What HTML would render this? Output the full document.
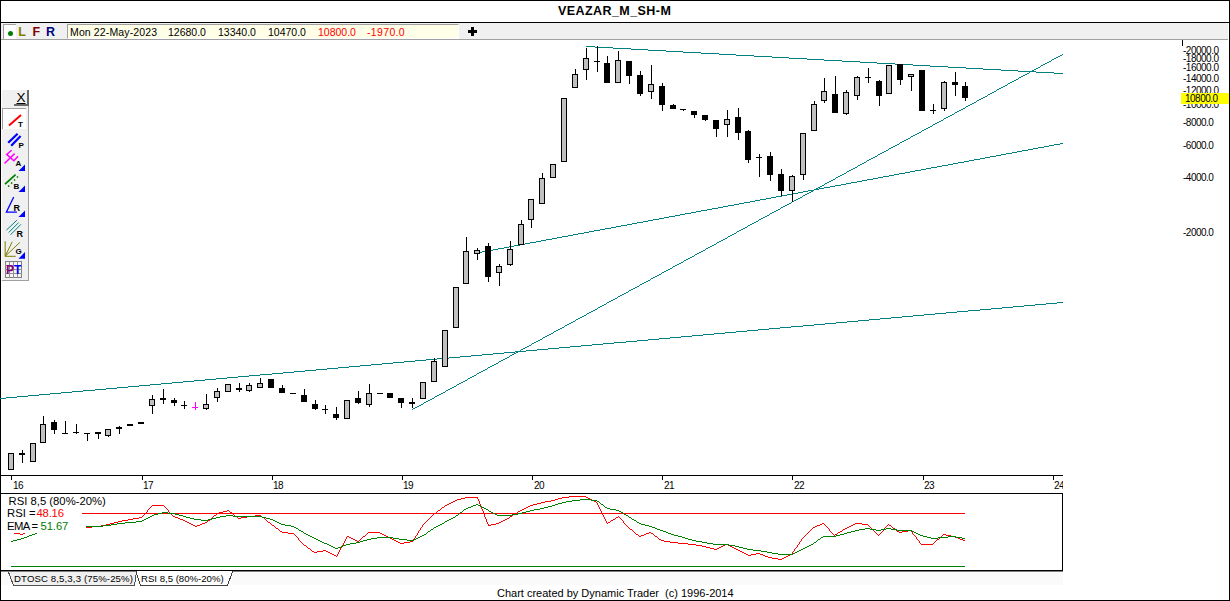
<!DOCTYPE html>
<html><head><meta charset="utf-8"><title>VEAZAR_M_SH-M</title>
<style>
html,body{margin:0;padding:0;background:#fff;}
body{width:1230px;height:601px;position:relative;overflow:hidden;font-family:"Liberation Sans",sans-serif;color:#000;}
.abs{position:absolute;}
.t{position:absolute;white-space:nowrap;line-height:1;}
#frame{position:absolute;left:0;top:0;width:1228px;height:599px;border:1px solid #000;}
#title{left:558px;top:5px;font-size:12.5px;font-weight:bold;letter-spacing:0.43px;}
#tb{position:absolute;left:1px;top:23px;width:1227px;height:16px;background:#f0f0f0;}
#tbl{position:absolute;left:1px;top:39px;width:1227px;height:1px;background:#a0a0a0;}
#hl{position:absolute;left:1px;top:22px;width:1228px;height:1px;background:#000;}
#dot{position:absolute;left:3px;top:24px;width:12px;height:14px;background:#fff;border-top:1px solid #a0a0a0;border-left:1px solid #a0a0a0;}
#info{position:absolute;left:67px;top:24px;width:390px;height:13px;background:#ffffe8;border-top:1px solid #a0a0a0;border-left:1px solid #a0a0a0;border-bottom:1px solid #fff;border-right:1px solid #fff;}
.tbt{font-size:10.5px;top:27px;}
.ax{font-size:10px;left:1183px;letter-spacing:-0.5px;}
.xl{font-size:10px;top:481px;letter-spacing:-0.5px;}
.rs{font-size:11.3px;}
.tab{font-size:9.6px;}
.pl{font-size:8px;font-weight:bold;}
</style></head><body>
<div id="frame"></div>
<div class="t" id="title">VEAZAR_M_SH-M</div>
<div id="hl"></div><div id="tb"></div><div id="tbl"></div>
<div class="abs" style="left:1px;top:572px;width:1062px;height:13px;background:#fafafa;"></div>
<div id="dot"></div><div id="info"></div>
<div class="abs" style="left:8px;top:31px;width:5px;height:5px;border-radius:2.5px;background:#008000;"></div>
<div class="t" style="left:18.2px;top:25.5px;font-size:12.5px;font-weight:bold;color:#808000;">L</div>
<div class="t" style="left:32.5px;top:25.5px;font-size:12.5px;font-weight:bold;color:#800000;">F</div>
<div class="t" style="left:46px;top:25.5px;font-size:12.5px;font-weight:bold;color:#000080;">R</div>
<div class="t tbt" style="left:70px;letter-spacing:0.13px;">Mon 22-May-2023</div>
<div class="t tbt" style="left:168px;">12680.0</div>
<div class="t tbt" style="left:218px;">13340.0</div>
<div class="t tbt" style="left:268px;">10470.0</div>
<div class="t tbt" style="left:318px;color:#ff0000;">10800.0</div>
<div class="t tbt" style="left:367px;color:#ff0000;letter-spacing:0.35px;">-1970.0</div>
<div class="abs" style="left:468px;top:30px;width:9px;height:3px;background:#000;"></div>
<div class="abs" style="left:471px;top:27px;width:3px;height:9px;background:#000;"></div>
<svg class="abs" style="left:0;top:0" width="1230" height="601" viewBox="0 0 1230 601" shape-rendering="crispEdges">
<path d="M1057 302h6v1h-6zM1046 303h11v1h-11zM1035 304h11v1h-11zM1024 305h11v1h-11zM1013 306h11v1h-11zM1002 307h11v1h-11zM991 308h11v1h-11zM980 309h11v1h-11zM968 310h12v1h-12zM957 311h11v1h-11zM946 312h11v1h-11zM935 313h11v1h-11zM924 314h11v1h-11zM913 315h11v1h-11zM902 316h11v1h-11zM891 317h11v1h-11zM880 318h11v1h-11zM869 319h11v1h-11zM858 320h11v1h-11zM847 321h11v1h-11zM836 322h11v1h-11zM825 323h11v1h-11zM814 324h11v1h-11zM803 325h11v1h-11zM791 326h12v1h-12zM780 327h11v1h-11zM769 328h11v1h-11zM758 329h11v1h-11zM747 330h11v1h-11zM736 331h11v1h-11zM725 332h11v1h-11zM714 333h11v1h-11zM703 334h11v1h-11zM692 335h11v1h-11zM681 336h11v1h-11zM670 337h11v1h-11zM659 338h11v1h-11zM648 339h11v1h-11zM637 340h11v1h-11zM626 341h11v1h-11zM614 342h12v1h-12zM603 343h11v1h-11zM592 344h11v1h-11zM581 345h11v1h-11zM570 346h11v1h-11zM559 347h11v1h-11zM548 348h11v1h-11zM537 349h11v1h-11zM526 350h11v1h-11zM515 351h11v1h-11zM504 352h11v1h-11zM493 353h11v1h-11zM482 354h11v1h-11zM471 355h11v1h-11zM460 356h11v1h-11zM449 357h11v1h-11zM437 358h12v1h-12zM426 359h11v1h-11zM415 360h11v1h-11zM404 361h11v1h-11zM393 362h11v1h-11zM382 363h11v1h-11zM371 364h11v1h-11zM360 365h11v1h-11zM349 366h11v1h-11zM338 367h11v1h-11zM327 368h11v1h-11zM316 369h11v1h-11zM305 370h11v1h-11zM294 371h11v1h-11zM283 372h11v1h-11zM272 373h11v1h-11zM260 374h12v1h-12zM249 375h11v1h-11zM238 376h11v1h-11zM227 377h11v1h-11zM216 378h11v1h-11zM205 379h11v1h-11zM194 380h11v1h-11zM183 381h11v1h-11zM172 382h11v1h-11zM161 383h11v1h-11zM150 384h11v1h-11zM139 385h11v1h-11zM128 386h11v1h-11zM117 387h11v1h-11zM106 388h11v1h-11zM95 389h11v1h-11zM83 390h12v1h-12zM72 391h11v1h-11zM61 392h11v1h-11zM50 393h11v1h-11zM39 394h11v1h-11zM28 395h11v1h-11zM17 396h11v1h-11zM6 397h11v1h-11zM0 398h6v1h-6z" fill="#008080"/>
<path d="M1062 54h1v1h-1zM1060 55h2v1h-2zM1058 56h2v1h-2zM1056 57h2v1h-2zM1054 58h2v1h-2zM1052 59h2v1h-2zM1051 60h1v1h-1zM1049 61h2v1h-2zM1047 62h2v1h-2zM1045 63h2v1h-2zM1043 64h2v1h-2zM1041 65h2v1h-2zM1040 66h1v1h-1zM1038 67h2v1h-2zM1036 68h2v1h-2zM1034 69h2v1h-2zM1032 70h2v1h-2zM1030 71h2v1h-2zM1029 72h1v1h-1zM1027 73h2v1h-2zM1025 74h2v1h-2zM1023 75h2v1h-2zM1021 76h2v1h-2zM1019 77h2v1h-2zM1018 78h1v1h-1zM1016 79h2v1h-2zM1014 80h2v1h-2zM1012 81h2v1h-2zM1010 82h2v1h-2zM1008 83h2v1h-2zM1007 84h1v1h-1zM1005 85h2v1h-2zM1003 86h2v1h-2zM1001 87h2v1h-2zM999 88h2v1h-2zM997 89h2v1h-2zM996 90h1v1h-1zM994 91h2v1h-2zM992 92h2v1h-2zM990 93h2v1h-2zM988 94h2v1h-2zM987 95h1v1h-1zM985 96h2v1h-2zM983 97h2v1h-2zM981 98h2v1h-2zM979 99h2v1h-2zM977 100h2v1h-2zM976 101h1v1h-1zM974 102h2v1h-2zM972 103h2v1h-2zM970 104h2v1h-2zM968 105h2v1h-2zM966 106h2v1h-2zM965 107h1v1h-1zM963 108h2v1h-2zM961 109h2v1h-2zM959 110h2v1h-2zM957 111h2v1h-2zM955 112h2v1h-2zM954 113h1v1h-1zM952 114h2v1h-2zM950 115h2v1h-2zM948 116h2v1h-2zM946 117h2v1h-2zM944 118h2v1h-2zM943 119h1v1h-1zM941 120h2v1h-2zM939 121h2v1h-2zM937 122h2v1h-2zM935 123h2v1h-2zM933 124h2v1h-2zM932 125h1v1h-1zM930 126h2v1h-2zM928 127h2v1h-2zM926 128h2v1h-2zM924 129h2v1h-2zM922 130h2v1h-2zM921 131h1v1h-1zM919 132h2v1h-2zM917 133h2v1h-2zM915 134h2v1h-2zM913 135h2v1h-2zM911 136h2v1h-2zM910 137h1v1h-1zM908 138h2v1h-2zM906 139h2v1h-2zM904 140h2v1h-2zM902 141h2v1h-2zM900 142h2v1h-2zM899 143h1v1h-1zM897 144h2v1h-2zM895 145h2v1h-2zM893 146h2v1h-2zM891 147h2v1h-2zM889 148h2v1h-2zM888 149h1v1h-1zM886 150h2v1h-2zM884 151h2v1h-2zM882 152h2v1h-2zM880 153h2v1h-2zM878 154h2v1h-2zM877 155h1v1h-1zM875 156h2v1h-2zM873 157h2v1h-2zM871 158h2v1h-2zM869 159h2v1h-2zM867 160h2v1h-2zM866 161h1v1h-1zM864 162h2v1h-2zM862 163h2v1h-2zM860 164h2v1h-2zM858 165h2v1h-2zM857 166h1v1h-1zM855 167h2v1h-2zM853 168h2v1h-2zM851 169h2v1h-2zM849 170h2v1h-2zM847 171h2v1h-2zM846 172h1v1h-1zM844 173h2v1h-2zM842 174h2v1h-2zM840 175h2v1h-2zM838 176h2v1h-2zM836 177h2v1h-2zM835 178h1v1h-1zM833 179h2v1h-2zM831 180h2v1h-2zM829 181h2v1h-2zM827 182h2v1h-2zM825 183h2v1h-2zM824 184h1v1h-1zM822 185h2v1h-2zM820 186h2v1h-2zM818 187h2v1h-2zM816 188h2v1h-2zM814 189h2v1h-2zM813 190h1v1h-1zM811 191h2v1h-2zM809 192h2v1h-2zM807 193h2v1h-2zM805 194h2v1h-2zM803 195h2v1h-2zM802 196h1v1h-1zM800 197h2v1h-2zM798 198h2v1h-2zM796 199h2v1h-2zM794 200h2v1h-2zM792 201h2v1h-2zM791 202h1v1h-1zM789 203h2v1h-2zM787 204h2v1h-2zM785 205h2v1h-2zM783 206h2v1h-2zM781 207h2v1h-2zM780 208h1v1h-1zM778 209h2v1h-2zM776 210h2v1h-2zM774 211h2v1h-2zM772 212h2v1h-2zM770 213h2v1h-2zM769 214h1v1h-1zM767 215h2v1h-2zM765 216h2v1h-2zM763 217h2v1h-2zM761 218h2v1h-2zM759 219h2v1h-2zM758 220h1v1h-1zM756 221h2v1h-2zM754 222h2v1h-2zM752 223h2v1h-2zM750 224h2v1h-2zM748 225h2v1h-2zM747 226h1v1h-1zM745 227h2v1h-2zM743 228h2v1h-2zM741 229h2v1h-2zM739 230h2v1h-2zM737 231h2v1h-2zM736 232h1v1h-1zM734 233h2v1h-2zM732 234h2v1h-2zM730 235h2v1h-2zM728 236h2v1h-2zM727 237h1v1h-1zM725 238h2v1h-2zM723 239h2v1h-2zM721 240h2v1h-2zM719 241h2v1h-2zM717 242h2v1h-2zM716 243h1v1h-1zM714 244h2v1h-2zM712 245h2v1h-2zM710 246h2v1h-2zM708 247h2v1h-2zM706 248h2v1h-2zM705 249h1v1h-1zM703 250h2v1h-2zM701 251h2v1h-2zM699 252h2v1h-2zM697 253h2v1h-2zM695 254h2v1h-2zM694 255h1v1h-1zM692 256h2v1h-2zM690 257h2v1h-2zM688 258h2v1h-2zM686 259h2v1h-2zM684 260h2v1h-2zM683 261h1v1h-1zM681 262h2v1h-2zM679 263h2v1h-2zM677 264h2v1h-2zM675 265h2v1h-2zM673 266h2v1h-2zM672 267h1v1h-1zM670 268h2v1h-2zM668 269h2v1h-2zM666 270h2v1h-2zM664 271h2v1h-2zM662 272h2v1h-2zM661 273h1v1h-1zM659 274h2v1h-2zM657 275h2v1h-2zM655 276h2v1h-2zM653 277h2v1h-2zM651 278h2v1h-2zM650 279h1v1h-1zM648 280h2v1h-2zM646 281h2v1h-2zM644 282h2v1h-2zM642 283h2v1h-2zM640 284h2v1h-2zM639 285h1v1h-1zM637 286h2v1h-2zM635 287h2v1h-2zM633 288h2v1h-2zM631 289h2v1h-2zM629 290h2v1h-2zM628 291h1v1h-1zM626 292h2v1h-2zM624 293h2v1h-2zM622 294h2v1h-2zM620 295h2v1h-2zM618 296h2v1h-2zM617 297h1v1h-1zM615 298h2v1h-2zM613 299h2v1h-2zM611 300h2v1h-2zM609 301h2v1h-2zM607 302h2v1h-2zM606 303h1v1h-1zM604 304h2v1h-2zM602 305h2v1h-2zM600 306h2v1h-2zM598 307h2v1h-2zM597 308h1v1h-1zM595 309h2v1h-2zM593 310h2v1h-2zM591 311h2v1h-2zM589 312h2v1h-2zM587 313h2v1h-2zM586 314h1v1h-1zM584 315h2v1h-2zM582 316h2v1h-2zM580 317h2v1h-2zM578 318h2v1h-2zM576 319h2v1h-2zM575 320h1v1h-1zM573 321h2v1h-2zM571 322h2v1h-2zM569 323h2v1h-2zM567 324h2v1h-2zM565 325h2v1h-2zM564 326h1v1h-1zM562 327h2v1h-2zM560 328h2v1h-2zM558 329h2v1h-2zM556 330h2v1h-2zM554 331h2v1h-2zM553 332h1v1h-1zM551 333h2v1h-2zM549 334h2v1h-2zM547 335h2v1h-2zM545 336h2v1h-2zM543 337h2v1h-2zM542 338h1v1h-1zM540 339h2v1h-2zM538 340h2v1h-2zM536 341h2v1h-2zM534 342h2v1h-2zM532 343h2v1h-2zM531 344h1v1h-1zM529 345h2v1h-2zM527 346h2v1h-2zM525 347h2v1h-2zM523 348h2v1h-2zM521 349h2v1h-2zM520 350h1v1h-1zM518 351h2v1h-2zM516 352h2v1h-2zM514 353h2v1h-2zM512 354h2v1h-2zM510 355h2v1h-2zM509 356h1v1h-1zM507 357h2v1h-2zM505 358h2v1h-2zM503 359h2v1h-2zM501 360h2v1h-2zM499 361h2v1h-2zM498 362h1v1h-1zM496 363h2v1h-2zM494 364h2v1h-2zM492 365h2v1h-2zM490 366h2v1h-2zM488 367h2v1h-2zM487 368h1v1h-1zM485 369h2v1h-2zM483 370h2v1h-2zM481 371h2v1h-2zM479 372h2v1h-2zM477 373h2v1h-2zM476 374h1v1h-1zM474 375h2v1h-2zM472 376h2v1h-2zM470 377h2v1h-2zM468 378h2v1h-2zM467 379h1v1h-1zM465 380h2v1h-2zM463 381h2v1h-2zM461 382h2v1h-2zM459 383h2v1h-2zM457 384h2v1h-2zM456 385h1v1h-1zM454 386h2v1h-2zM452 387h2v1h-2zM450 388h2v1h-2zM448 389h2v1h-2zM446 390h2v1h-2zM445 391h1v1h-1zM443 392h2v1h-2zM441 393h2v1h-2zM439 394h2v1h-2zM437 395h2v1h-2zM435 396h2v1h-2zM434 397h1v1h-1zM432 398h2v1h-2zM430 399h2v1h-2zM428 400h2v1h-2zM426 401h2v1h-2zM424 402h2v1h-2zM423 403h1v1h-1zM421 404h2v1h-2zM419 405h2v1h-2zM417 406h2v1h-2zM415 407h2v1h-2zM413 408h2v1h-2zM412 409h1v1h-1z" fill="#008080"/>
<path d="M1060 143h3v1h-3zM1054 144h6v1h-6zM1049 145h5v1h-5zM1044 146h5v1h-5zM1038 147h6v1h-6zM1033 148h5v1h-5zM1028 149h5v1h-5zM1022 150h6v1h-6zM1017 151h5v1h-5zM1012 152h5v1h-5zM1006 153h6v1h-6zM1001 154h5v1h-5zM996 155h5v1h-5zM990 156h6v1h-6zM985 157h5v1h-5zM980 158h5v1h-5zM974 159h6v1h-6zM969 160h5v1h-5zM964 161h5v1h-5zM958 162h6v1h-6zM953 163h5v1h-5zM948 164h5v1h-5zM942 165h6v1h-6zM937 166h5v1h-5zM931 167h6v1h-6zM926 168h5v1h-5zM921 169h5v1h-5zM915 170h6v1h-6zM910 171h5v1h-5zM905 172h5v1h-5zM899 173h6v1h-6zM894 174h5v1h-5zM889 175h5v1h-5zM883 176h6v1h-6zM878 177h5v1h-5zM873 178h5v1h-5zM867 179h6v1h-6zM862 180h5v1h-5zM857 181h5v1h-5zM851 182h6v1h-6zM846 183h5v1h-5zM841 184h5v1h-5zM835 185h6v1h-6zM830 186h5v1h-5zM824 187h6v1h-6zM819 188h5v1h-5zM814 189h5v1h-5zM808 190h6v1h-6zM803 191h5v1h-5zM798 192h5v1h-5zM792 193h6v1h-6zM787 194h5v1h-5zM782 195h5v1h-5zM776 196h6v1h-6zM771 197h5v1h-5zM766 198h5v1h-5zM760 199h6v1h-6zM755 200h5v1h-5zM750 201h5v1h-5zM744 202h6v1h-6zM739 203h5v1h-5zM734 204h5v1h-5zM728 205h6v1h-6zM723 206h5v1h-5zM718 207h5v1h-5zM712 208h6v1h-6zM707 209h5v1h-5zM701 210h6v1h-6zM696 211h5v1h-5zM691 212h5v1h-5zM685 213h6v1h-6zM680 214h5v1h-5zM675 215h5v1h-5zM669 216h6v1h-6zM664 217h5v1h-5zM659 218h5v1h-5zM653 219h6v1h-6zM648 220h5v1h-5zM643 221h5v1h-5zM637 222h6v1h-6zM632 223h5v1h-5zM627 224h5v1h-5zM621 225h6v1h-6zM616 226h5v1h-5zM611 227h5v1h-5zM605 228h6v1h-6zM600 229h5v1h-5zM594 230h6v1h-6zM589 231h5v1h-5zM584 232h5v1h-5zM578 233h6v1h-6zM573 234h5v1h-5zM568 235h5v1h-5zM562 236h6v1h-6zM557 237h5v1h-5zM552 238h5v1h-5zM546 239h6v1h-6zM541 240h5v1h-5zM536 241h5v1h-5zM530 242h6v1h-6zM525 243h5v1h-5zM520 244h5v1h-5zM514 245h6v1h-6zM509 246h5v1h-5zM504 247h5v1h-5zM498 248h6v1h-6zM493 249h5v1h-5zM488 250h5v1h-5zM482 251h6v1h-6zM479 252h3v1h-3z" fill="#008080"/>
<path d="M586 46h9v1h-9zM595 47h18v1h-18zM613 48h18v1h-18zM631 49h17v1h-17zM648 50h18v1h-18zM666 51h17v1h-17zM683 52h18v1h-18zM701 53h18v1h-18zM719 54h17v1h-17zM736 55h18v1h-18zM754 56h18v1h-18zM772 57h17v1h-17zM789 58h18v1h-18zM807 59h17v1h-17zM824 60h18v1h-18zM842 61h18v1h-18zM860 62h17v1h-17zM877 63h18v1h-18zM895 64h18v1h-18zM913 65h17v1h-17zM930 66h18v1h-18zM948 67h18v1h-18zM966 68h17v1h-17zM983 69h18v1h-18zM1001 70h17v1h-17zM1018 71h18v1h-18zM1036 72h18v1h-18zM1054 73h9v1h-9z" fill="#008080"/>
<rect x="8" y="453" width="6" height="17" fill="#000"/>
<rect x="9" y="454" width="4" height="15" fill="#c0c0c0"/>
<rect x="22" y="450" width="1" height="13" fill="#000"/>
<rect x="19" y="453" width="6" height="2" fill="#000"/>
<rect x="30" y="443" width="6" height="19" fill="#000"/>
<rect x="31" y="444" width="4" height="17" fill="#c0c0c0"/>
<rect x="43" y="416" width="1" height="27" fill="#000"/>
<rect x="40" y="424" width="6" height="19" fill="#000"/>
<rect x="41" y="425" width="4" height="17" fill="#c0c0c0"/>
<rect x="54" y="420" width="1" height="14" fill="#000"/>
<rect x="51" y="422" width="6" height="8" fill="#000"/>
<rect x="65" y="421" width="1" height="13" fill="#000"/>
<rect x="62" y="433" width="6" height="1" fill="#000"/>
<rect x="76" y="424" width="1" height="10" fill="#000"/>
<rect x="73" y="432" width="6" height="1" fill="#000"/>
<rect x="87" y="433" width="1" height="8" fill="#000"/>
<rect x="84" y="433" width="6" height="1" fill="#000"/>
<rect x="98" y="432" width="1" height="7" fill="#000"/>
<rect x="95" y="432" width="6" height="2" fill="#000"/>
<rect x="108" y="429" width="1" height="8" fill="#000"/>
<rect x="105" y="429" width="6" height="7" fill="#000"/>
<rect x="106" y="430" width="4" height="5" fill="#c0c0c0"/>
<rect x="119" y="426" width="1" height="8" fill="#000"/>
<rect x="116" y="427" width="6" height="2" fill="#000"/>
<rect x="127" y="424" width="6" height="2" fill="#000"/>
<rect x="138" y="422" width="6" height="2" fill="#000"/>
<rect x="152" y="395" width="1" height="19" fill="#000"/>
<rect x="149" y="399" width="6" height="7" fill="#000"/>
<rect x="150" y="400" width="4" height="5" fill="#c0c0c0"/>
<rect x="163" y="389" width="1" height="15" fill="#000"/>
<rect x="160" y="398" width="6" height="2" fill="#000"/>
<rect x="174" y="398" width="1" height="8" fill="#000"/>
<rect x="171" y="400" width="6" height="3" fill="#000"/>
<rect x="184" y="401" width="1" height="8" fill="#000"/>
<rect x="181" y="405" width="6" height="1" fill="#000"/>
<rect x="195" y="402" width="1" height="8" fill="#ff00ff"/>
<rect x="192" y="407" width="6" height="1" fill="#ff00ff"/>
<rect x="206" y="394" width="1" height="16" fill="#000"/>
<rect x="203" y="404" width="6" height="5" fill="#000"/>
<rect x="204" y="405" width="4" height="3" fill="#c0c0c0"/>
<rect x="217" y="388" width="1" height="14" fill="#000"/>
<rect x="214" y="391" width="6" height="7" fill="#000"/>
<rect x="215" y="392" width="4" height="5" fill="#c0c0c0"/>
<rect x="225" y="384" width="6" height="8" fill="#000"/>
<rect x="226" y="385" width="4" height="6" fill="#c0c0c0"/>
<rect x="239" y="383" width="1" height="9" fill="#000"/>
<rect x="236" y="388" width="6" height="2" fill="#000"/>
<rect x="249" y="383" width="1" height="9" fill="#000"/>
<rect x="246" y="385" width="6" height="6" fill="#000"/>
<rect x="247" y="386" width="4" height="4" fill="#c0c0c0"/>
<rect x="260" y="378" width="1" height="10" fill="#000"/>
<rect x="257" y="383" width="6" height="5" fill="#000"/>
<rect x="258" y="384" width="4" height="3" fill="#c0c0c0"/>
<rect x="268" y="379" width="6" height="9" fill="#000"/>
<rect x="282" y="385" width="1" height="8" fill="#000"/>
<rect x="279" y="388" width="6" height="5" fill="#000"/>
<rect x="290" y="393" width="6" height="1" fill="#000"/>
<rect x="304" y="389" width="1" height="13" fill="#000"/>
<rect x="301" y="395" width="6" height="7" fill="#000"/>
<rect x="315" y="400" width="1" height="10" fill="#000"/>
<rect x="312" y="404" width="6" height="5" fill="#000"/>
<rect x="325" y="405" width="1" height="9" fill="#000"/>
<rect x="322" y="409" width="6" height="1" fill="#000"/>
<rect x="336" y="407" width="1" height="13" fill="#000"/>
<rect x="333" y="414" width="6" height="4" fill="#000"/>
<rect x="344" y="400" width="6" height="19" fill="#000"/>
<rect x="345" y="401" width="4" height="17" fill="#c0c0c0"/>
<rect x="358" y="391" width="1" height="13" fill="#000"/>
<rect x="355" y="398" width="6" height="5" fill="#000"/>
<rect x="369" y="384" width="1" height="23" fill="#000"/>
<rect x="366" y="393" width="6" height="12" fill="#000"/>
<rect x="367" y="394" width="4" height="10" fill="#c0c0c0"/>
<rect x="377" y="393" width="6" height="1" fill="#000"/>
<rect x="387" y="393" width="6" height="5" fill="#000"/>
<rect x="401" y="398" width="1" height="10" fill="#000"/>
<rect x="398" y="398" width="6" height="5" fill="#000"/>
<rect x="412" y="398" width="1" height="10" fill="#000"/>
<rect x="409" y="402" width="6" height="2" fill="#000"/>
<rect x="420" y="382" width="6" height="17" fill="#000"/>
<rect x="421" y="383" width="4" height="15" fill="#c0c0c0"/>
<rect x="434" y="358" width="1" height="24" fill="#000"/>
<rect x="431" y="361" width="6" height="21" fill="#000"/>
<rect x="432" y="362" width="4" height="19" fill="#c0c0c0"/>
<rect x="442" y="330" width="6" height="37" fill="#000"/>
<rect x="443" y="331" width="4" height="35" fill="#c0c0c0"/>
<rect x="453" y="287" width="6" height="41" fill="#000"/>
<rect x="454" y="288" width="4" height="39" fill="#c0c0c0"/>
<rect x="466" y="237" width="1" height="47" fill="#000"/>
<rect x="463" y="251" width="6" height="33" fill="#000"/>
<rect x="464" y="252" width="4" height="31" fill="#c0c0c0"/>
<rect x="477" y="248" width="1" height="12" fill="#000"/>
<rect x="474" y="250" width="6" height="4" fill="#000"/>
<rect x="475" y="251" width="4" height="2" fill="#c0c0c0"/>
<rect x="488" y="243" width="1" height="39" fill="#000"/>
<rect x="485" y="246" width="6" height="31" fill="#000"/>
<rect x="499" y="264" width="1" height="22" fill="#000"/>
<rect x="496" y="266" width="6" height="7" fill="#000"/>
<rect x="497" y="267" width="4" height="5" fill="#c0c0c0"/>
<rect x="510" y="241" width="1" height="25" fill="#000"/>
<rect x="507" y="249" width="6" height="16" fill="#000"/>
<rect x="508" y="250" width="4" height="14" fill="#c0c0c0"/>
<rect x="521" y="220" width="1" height="25" fill="#000"/>
<rect x="518" y="224" width="6" height="21" fill="#000"/>
<rect x="519" y="225" width="4" height="19" fill="#c0c0c0"/>
<rect x="531" y="199" width="1" height="29" fill="#000"/>
<rect x="528" y="199" width="6" height="21" fill="#000"/>
<rect x="529" y="200" width="4" height="19" fill="#c0c0c0"/>
<rect x="542" y="173" width="1" height="31" fill="#000"/>
<rect x="539" y="178" width="6" height="26" fill="#000"/>
<rect x="540" y="179" width="4" height="24" fill="#c0c0c0"/>
<rect x="550" y="164" width="6" height="14" fill="#000"/>
<rect x="551" y="165" width="4" height="12" fill="#c0c0c0"/>
<rect x="561" y="98" width="6" height="64" fill="#000"/>
<rect x="562" y="99" width="4" height="62" fill="#c0c0c0"/>
<rect x="575" y="69" width="1" height="19" fill="#000"/>
<rect x="572" y="74" width="6" height="14" fill="#000"/>
<rect x="573" y="75" width="4" height="12" fill="#c0c0c0"/>
<rect x="586" y="48" width="1" height="32" fill="#000"/>
<rect x="583" y="58" width="6" height="12" fill="#000"/>
<rect x="584" y="59" width="4" height="10" fill="#c0c0c0"/>
<rect x="597" y="46" width="1" height="26" fill="#000"/>
<rect x="594" y="61" width="6" height="1" fill="#000"/>
<rect x="607" y="56" width="1" height="27" fill="#000"/>
<rect x="604" y="63" width="6" height="20" fill="#000"/>
<rect x="618" y="51" width="1" height="32" fill="#000"/>
<rect x="615" y="60" width="6" height="23" fill="#000"/>
<rect x="616" y="61" width="4" height="21" fill="#c0c0c0"/>
<rect x="629" y="61" width="1" height="23" fill="#000"/>
<rect x="626" y="61" width="6" height="15" fill="#000"/>
<rect x="640" y="71" width="1" height="25" fill="#000"/>
<rect x="637" y="75" width="6" height="19" fill="#000"/>
<rect x="651" y="65" width="1" height="34" fill="#000"/>
<rect x="648" y="84" width="6" height="8" fill="#000"/>
<rect x="649" y="85" width="4" height="6" fill="#c0c0c0"/>
<rect x="662" y="83" width="1" height="28" fill="#000"/>
<rect x="659" y="86" width="6" height="19" fill="#000"/>
<rect x="673" y="104" width="1" height="5" fill="#000"/>
<rect x="670" y="105" width="6" height="4" fill="#000"/>
<rect x="683" y="109" width="1" height="2" fill="#000"/>
<rect x="680" y="109" width="6" height="1" fill="#000"/>
<rect x="694" y="111" width="1" height="7" fill="#000"/>
<rect x="691" y="111" width="6" height="4" fill="#000"/>
<rect x="705" y="115" width="1" height="6" fill="#000"/>
<rect x="702" y="115" width="6" height="5" fill="#000"/>
<rect x="716" y="120" width="1" height="17" fill="#000"/>
<rect x="713" y="120" width="6" height="9" fill="#000"/>
<rect x="727" y="110" width="1" height="27" fill="#000"/>
<rect x="724" y="119" width="6" height="6" fill="#000"/>
<rect x="725" y="120" width="4" height="4" fill="#c0c0c0"/>
<rect x="738" y="108" width="1" height="32" fill="#000"/>
<rect x="735" y="117" width="6" height="16" fill="#000"/>
<rect x="748" y="130" width="1" height="33" fill="#000"/>
<rect x="745" y="131" width="6" height="29" fill="#000"/>
<rect x="759" y="154" width="1" height="23" fill="#000"/>
<rect x="756" y="157" width="6" height="1" fill="#000"/>
<rect x="770" y="152" width="1" height="29" fill="#000"/>
<rect x="767" y="156" width="6" height="19" fill="#000"/>
<rect x="781" y="169" width="1" height="27" fill="#000"/>
<rect x="778" y="174" width="6" height="17" fill="#000"/>
<rect x="792" y="175" width="1" height="27" fill="#000"/>
<rect x="789" y="176" width="6" height="15" fill="#000"/>
<rect x="790" y="177" width="4" height="13" fill="#c0c0c0"/>
<rect x="803" y="133" width="1" height="47" fill="#000"/>
<rect x="800" y="133" width="6" height="42" fill="#000"/>
<rect x="801" y="134" width="4" height="40" fill="#c0c0c0"/>
<rect x="814" y="101" width="1" height="30" fill="#000"/>
<rect x="811" y="104" width="6" height="27" fill="#000"/>
<rect x="812" y="105" width="4" height="25" fill="#c0c0c0"/>
<rect x="824" y="78" width="1" height="25" fill="#000"/>
<rect x="821" y="91" width="6" height="10" fill="#000"/>
<rect x="822" y="92" width="4" height="8" fill="#c0c0c0"/>
<rect x="835" y="76" width="1" height="37" fill="#000"/>
<rect x="832" y="94" width="6" height="19" fill="#000"/>
<rect x="846" y="90" width="1" height="25" fill="#000"/>
<rect x="843" y="92" width="6" height="22" fill="#000"/>
<rect x="844" y="93" width="4" height="20" fill="#c0c0c0"/>
<rect x="857" y="76" width="1" height="24" fill="#000"/>
<rect x="854" y="77" width="6" height="19" fill="#000"/>
<rect x="855" y="78" width="4" height="17" fill="#c0c0c0"/>
<rect x="868" y="68" width="1" height="15" fill="#000"/>
<rect x="865" y="77" width="6" height="1" fill="#000"/>
<rect x="879" y="80" width="1" height="26" fill="#000"/>
<rect x="876" y="81" width="6" height="15" fill="#000"/>
<rect x="886" y="65" width="6" height="29" fill="#000"/>
<rect x="887" y="66" width="4" height="27" fill="#c0c0c0"/>
<rect x="900" y="64" width="1" height="21" fill="#000"/>
<rect x="897" y="64" width="6" height="16" fill="#000"/>
<rect x="911" y="74" width="1" height="17" fill="#000"/>
<rect x="908" y="74" width="6" height="3" fill="#000"/>
<rect x="909" y="75" width="4" height="1" fill="#c0c0c0"/>
<rect x="919" y="70" width="6" height="41" fill="#000"/>
<rect x="933" y="104" width="1" height="10" fill="#000"/>
<rect x="930" y="110" width="6" height="1" fill="#000"/>
<rect x="944" y="81" width="1" height="30" fill="#000"/>
<rect x="941" y="82" width="6" height="27" fill="#000"/>
<rect x="942" y="83" width="4" height="25" fill="#c0c0c0"/>
<rect x="955" y="72" width="1" height="24" fill="#000"/>
<rect x="952" y="82" width="6" height="3" fill="#000"/>
<rect x="965" y="82" width="1" height="19" fill="#000"/>
<rect x="962" y="86" width="6" height="12" fill="#000"/>
<rect x="1" y="475" width="1062" height="1" fill="#000"/>
<rect x="11" y="476" width="1" height="4" fill="#000"/>
<rect x="142" y="476" width="1" height="4" fill="#000"/>
<rect x="272" y="476" width="1" height="4" fill="#000"/>
<rect x="402" y="476" width="1" height="4" fill="#000"/>
<rect x="532" y="476" width="1" height="4" fill="#000"/>
<rect x="662" y="476" width="1" height="4" fill="#000"/>
<rect x="792" y="476" width="1" height="4" fill="#000"/>
<rect x="923" y="476" width="1" height="4" fill="#000"/>
<rect x="1053" y="476" width="1" height="4" fill="#000"/>
<rect x="1182" y="40" width="1" height="6" fill="#000"/>
<rect x="1" y="493" width="1062" height="1" fill="#000"/>
<rect x="1062" y="493" width="1" height="78" fill="#000"/>
<rect x="1" y="570" width="1062" height="1" fill="#000"/>
<rect x="1" y="571" width="1062" height="1" fill="#808080"/>
<rect x="82" y="513" width="883" height="1" fill="#ff0000"/>
<rect x="11" y="566" width="954" height="1" fill="#008000"/>
<path d="M569 496h17v1h-17zM465 497h13v1h-13zM562 497h7v1h-7zM586 497h2v1h-2zM461 498h4v1h-4zM477 498h1v1h-1zM558 498h4v1h-4zM588 498h2v1h-2zM457 499h4v1h-4zM478 499h1v1h-1zM555 499h3v1h-3zM590 499h2v1h-2zM455 500h2v1h-2zM478 500h1v1h-1zM551 500h4v1h-4zM592 500h2v1h-2zM453 501h2v1h-2zM479 501h1v1h-1zM545 501h6v1h-6zM594 501h2v1h-2zM451 502h2v1h-2zM479 502h1v1h-1zM541 502h4v1h-4zM596 502h1v1h-1zM449 503h2v1h-2zM479 503h1v1h-1zM537 503h4v1h-4zM597 503h1v1h-1zM447 504h2v1h-2zM480 504h1v1h-1zM533 504h4v1h-4zM597 504h1v1h-1zM152 505h12v1h-12zM445 505h2v1h-2zM480 505h1v1h-1zM530 505h3v1h-3zM598 505h1v1h-1zM151 506h1v1h-1zM164 506h1v1h-1zM444 506h1v1h-1zM481 506h1v1h-1zM528 506h2v1h-2zM598 506h1v1h-1zM150 507h1v1h-1zM165 507h1v1h-1zM442 507h2v1h-2zM481 507h1v1h-1zM526 507h2v1h-2zM599 507h1v1h-1zM149 508h1v1h-1zM166 508h1v1h-1zM441 508h1v1h-1zM481 508h1v1h-1zM524 508h2v1h-2zM599 508h1v1h-1zM148 509h1v1h-1zM167 509h1v1h-1zM440 509h1v1h-1zM482 509h1v1h-1zM522 509h2v1h-2zM600 509h1v1h-1zM147 510h1v1h-1zM168 510h1v1h-1zM227 510h2v1h-2zM438 510h2v1h-2zM482 510h1v1h-1zM520 510h2v1h-2zM600 510h1v1h-1zM147 511h1v1h-1zM168 511h1v1h-1zM223 511h4v1h-4zM229 511h1v1h-1zM437 511h1v1h-1zM483 511h1v1h-1zM518 511h2v1h-2zM601 511h1v1h-1zM146 512h1v1h-1zM169 512h1v1h-1zM219 512h4v1h-4zM230 512h2v1h-2zM436 512h1v1h-1zM483 512h1v1h-1zM517 512h1v1h-1zM601 512h1v1h-1zM145 513h1v1h-1zM170 513h1v1h-1zM217 513h2v1h-2zM232 513h1v1h-1zM434 513h2v1h-2zM483 513h1v1h-1zM515 513h2v1h-2zM602 513h1v1h-1zM144 514h1v1h-1zM171 514h1v1h-1zM216 514h1v1h-1zM233 514h1v1h-1zM433 514h1v1h-1zM484 514h1v1h-1zM513 514h2v1h-2zM602 514h1v1h-1zM143 515h1v1h-1zM172 515h1v1h-1zM214 515h2v1h-2zM234 515h1v1h-1zM255 515h6v1h-6zM432 515h1v1h-1zM484 515h1v1h-1zM512 515h1v1h-1zM603 515h1v1h-1zM142 516h1v1h-1zM173 516h2v1h-2zM213 516h1v1h-1zM235 516h2v1h-2zM247 516h8v1h-8zM261 516h1v1h-1zM431 516h1v1h-1zM484 516h1v1h-1zM510 516h2v1h-2zM603 516h1v1h-1zM618 516h1v1h-1zM139 517h3v1h-3zM175 517h3v1h-3zM212 517h1v1h-1zM237 517h1v1h-1zM241 517h6v1h-6zM262 517h2v1h-2zM430 517h1v1h-1zM485 517h1v1h-1zM509 517h1v1h-1zM604 517h1v1h-1zM616 517h2v1h-2zM619 517h1v1h-1zM133 518h6v1h-6zM178 518h2v1h-2zM211 518h1v1h-1zM238 518h3v1h-3zM264 518h1v1h-1zM429 518h1v1h-1zM485 518h1v1h-1zM507 518h2v1h-2zM604 518h1v1h-1zM615 518h1v1h-1zM620 518h1v1h-1zM128 519h5v1h-5zM180 519h3v1h-3zM210 519h1v1h-1zM265 519h1v1h-1zM428 519h1v1h-1zM486 519h1v1h-1zM505 519h2v1h-2zM605 519h1v1h-1zM613 519h2v1h-2zM621 519h1v1h-1zM122 520h6v1h-6zM183 520h2v1h-2zM208 520h2v1h-2zM266 520h1v1h-1zM427 520h1v1h-1zM486 520h1v1h-1zM503 520h2v1h-2zM605 520h1v1h-1zM611 520h2v1h-2zM622 520h1v1h-1zM118 521h4v1h-4zM185 521h2v1h-2zM207 521h1v1h-1zM267 521h1v1h-1zM426 521h1v1h-1zM486 521h1v1h-1zM501 521h2v1h-2zM606 521h1v1h-1zM610 521h1v1h-1zM623 521h1v1h-1zM114 522h4v1h-4zM187 522h2v1h-2zM205 522h2v1h-2zM268 522h2v1h-2zM425 522h1v1h-1zM487 522h1v1h-1zM499 522h2v1h-2zM606 522h1v1h-1zM608 522h2v1h-2zM623 522h1v1h-1zM110 523h4v1h-4zM189 523h2v1h-2zM202 523h3v1h-3zM270 523h1v1h-1zM424 523h1v1h-1zM487 523h1v1h-1zM496 523h3v1h-3zM607 523h1v1h-1zM624 523h1v1h-1zM822 523h2v1h-2zM855 523h7v1h-7zM106 524h4v1h-4zM191 524h2v1h-2zM200 524h2v1h-2zM271 524h1v1h-1zM423 524h1v1h-1zM488 524h1v1h-1zM491 524h5v1h-5zM625 524h1v1h-1zM820 524h2v1h-2zM824 524h1v1h-1zM853 524h2v1h-2zM862 524h6v1h-6zM888 524h1v1h-1zM101 525h5v1h-5zM193 525h2v1h-2zM197 525h3v1h-3zM272 525h2v1h-2zM422 525h1v1h-1zM488 525h3v1h-3zM626 525h1v1h-1zM817 525h3v1h-3zM825 525h1v1h-1zM851 525h2v1h-2zM868 525h1v1h-1zM887 525h1v1h-1zM889 525h2v1h-2zM92 526h9v1h-9zM195 526h2v1h-2zM274 526h1v1h-1zM422 526h1v1h-1zM627 526h1v1h-1zM815 526h2v1h-2zM826 526h1v1h-1zM849 526h2v1h-2zM869 526h1v1h-1zM886 526h1v1h-1zM891 526h1v1h-1zM86 527h6v1h-6zM275 527h1v1h-1zM421 527h1v1h-1zM628 527h1v1h-1zM813 527h2v1h-2zM827 527h1v1h-1zM847 527h2v1h-2zM870 527h1v1h-1zM885 527h1v1h-1zM892 527h1v1h-1zM276 528h2v1h-2zM420 528h1v1h-1zM629 528h1v1h-1zM812 528h1v1h-1zM828 528h1v1h-1zM845 528h2v1h-2zM871 528h1v1h-1zM884 528h1v1h-1zM893 528h2v1h-2zM278 529h1v1h-1zM420 529h1v1h-1zM630 529h2v1h-2zM811 529h1v1h-1zM829 529h1v1h-1zM843 529h2v1h-2zM872 529h1v1h-1zM883 529h1v1h-1zM895 529h1v1h-1zM279 530h1v1h-1zM419 530h1v1h-1zM632 530h1v1h-1zM810 530h1v1h-1zM829 530h1v1h-1zM842 530h1v1h-1zM873 530h1v1h-1zM883 530h1v1h-1zM896 530h1v1h-1zM908 530h3v1h-3zM280 531h2v1h-2zM418 531h1v1h-1zM633 531h1v1h-1zM809 531h1v1h-1zM830 531h1v1h-1zM840 531h2v1h-2zM874 531h1v1h-1zM882 531h1v1h-1zM897 531h2v1h-2zM902 531h6v1h-6zM911 531h1v1h-1zM282 532h6v1h-6zM368 532h12v1h-12zM418 532h1v1h-1zM634 532h1v1h-1zM649 532h2v1h-2zM808 532h1v1h-1zM831 532h1v1h-1zM838 532h2v1h-2zM875 532h1v1h-1zM881 532h1v1h-1zM899 532h3v1h-3zM912 532h1v1h-1zM288 533h6v1h-6zM367 533h1v1h-1zM380 533h2v1h-2zM417 533h1v1h-1zM635 533h1v1h-1zM646 533h3v1h-3zM651 533h2v1h-2zM807 533h1v1h-1zM832 533h1v1h-1zM837 533h1v1h-1zM876 533h1v1h-1zM880 533h1v1h-1zM912 533h1v1h-1zM294 534h1v1h-1zM366 534h1v1h-1zM382 534h2v1h-2zM417 534h1v1h-1zM636 534h2v1h-2zM644 534h2v1h-2zM653 534h1v1h-1zM806 534h1v1h-1zM833 534h1v1h-1zM835 534h2v1h-2zM877 534h1v1h-1zM879 534h1v1h-1zM913 534h1v1h-1zM943 534h3v1h-3zM295 535h1v1h-1zM365 535h1v1h-1zM384 535h2v1h-2zM416 535h1v1h-1zM638 535h1v1h-1zM641 535h3v1h-3zM654 535h1v1h-1zM805 535h1v1h-1zM834 535h1v1h-1zM878 535h1v1h-1zM914 535h1v1h-1zM942 535h1v1h-1zM946 535h5v1h-5zM296 536h1v1h-1zM347 536h2v1h-2zM363 536h2v1h-2zM386 536h2v1h-2zM415 536h1v1h-1zM639 536h2v1h-2zM655 536h2v1h-2zM804 536h1v1h-1zM915 536h1v1h-1zM941 536h1v1h-1zM951 536h4v1h-4zM297 537h1v1h-1zM346 537h1v1h-1zM349 537h2v1h-2zM362 537h1v1h-1zM388 537h2v1h-2zM415 537h1v1h-1zM657 537h1v1h-1zM803 537h1v1h-1zM916 537h1v1h-1zM940 537h1v1h-1zM955 537h3v1h-3zM298 538h1v1h-1zM346 538h1v1h-1zM351 538h2v1h-2zM361 538h1v1h-1zM390 538h2v1h-2zM414 538h1v1h-1zM658 538h1v1h-1zM802 538h1v1h-1zM916 538h1v1h-1zM939 538h1v1h-1zM958 538h2v1h-2zM298 539h1v1h-1zM345 539h1v1h-1zM353 539h2v1h-2zM360 539h1v1h-1zM392 539h2v1h-2zM413 539h1v1h-1zM659 539h2v1h-2zM801 539h1v1h-1zM917 539h1v1h-1zM937 539h2v1h-2zM960 539h3v1h-3zM299 540h1v1h-1zM345 540h1v1h-1zM355 540h2v1h-2zM359 540h1v1h-1zM394 540h2v1h-2zM413 540h1v1h-1zM661 540h3v1h-3zM801 540h1v1h-1zM918 540h1v1h-1zM936 540h1v1h-1zM963 540h2v1h-2zM300 541h1v1h-1zM344 541h1v1h-1zM357 541h2v1h-2zM396 541h2v1h-2zM410 541h3v1h-3zM664 541h6v1h-6zM800 541h1v1h-1zM919 541h1v1h-1zM935 541h1v1h-1zM301 542h1v1h-1zM344 542h1v1h-1zM398 542h2v1h-2zM404 542h6v1h-6zM670 542h8v1h-8zM799 542h1v1h-1zM919 542h1v1h-1zM934 542h1v1h-1zM302 543h1v1h-1zM343 543h1v1h-1zM400 543h4v1h-4zM678 543h10v1h-10zM799 543h1v1h-1zM920 543h1v1h-1zM933 543h1v1h-1zM303 544h1v1h-1zM343 544h1v1h-1zM688 544h8v1h-8zM725 544h3v1h-3zM798 544h1v1h-1zM921 544h12v1h-12zM304 545h2v1h-2zM342 545h1v1h-1zM696 545h6v1h-6zM723 545h2v1h-2zM728 545h2v1h-2zM797 545h1v1h-1zM306 546h1v1h-1zM342 546h1v1h-1zM702 546h4v1h-4zM721 546h2v1h-2zM730 546h2v1h-2zM797 546h1v1h-1zM307 547h1v1h-1zM341 547h1v1h-1zM706 547h4v1h-4zM719 547h2v1h-2zM732 547h2v1h-2zM796 547h1v1h-1zM308 548h2v1h-2zM340 548h1v1h-1zM710 548h4v1h-4zM717 548h2v1h-2zM734 548h2v1h-2zM795 548h1v1h-1zM310 549h1v1h-1zM340 549h1v1h-1zM714 549h3v1h-3zM736 549h2v1h-2zM794 549h1v1h-1zM311 550h1v1h-1zM323 550h3v1h-3zM339 550h1v1h-1zM738 550h2v1h-2zM794 550h1v1h-1zM312 551h2v1h-2zM317 551h6v1h-6zM326 551h2v1h-2zM339 551h1v1h-1zM740 551h2v1h-2zM793 551h1v1h-1zM314 552h3v1h-3zM328 552h2v1h-2zM338 552h1v1h-1zM742 552h2v1h-2zM792 552h1v1h-1zM330 553h2v1h-2zM338 553h1v1h-1zM744 553h2v1h-2zM756 553h4v1h-4zM792 553h1v1h-1zM332 554h2v1h-2zM337 554h1v1h-1zM746 554h2v1h-2zM751 554h5v1h-5zM760 554h3v1h-3zM790 554h2v1h-2zM334 555h2v1h-2zM337 555h1v1h-1zM748 555h3v1h-3zM763 555h2v1h-2zM788 555h2v1h-2zM336 556h1v1h-1zM765 556h3v1h-3zM786 556h2v1h-2zM768 557h4v1h-4zM784 557h2v1h-2zM772 558h6v1h-6zM782 558h2v1h-2zM778 559h4v1h-4z" fill="#ff0000"/>
<path d="M580 499h11v1h-11zM572 500h8v1h-8zM591 500h6v1h-6zM566 501h6v1h-6zM597 501h2v1h-2zM562 502h4v1h-4zM599 502h1v1h-1zM558 503h4v1h-4zM600 503h1v1h-1zM476 504h2v1h-2zM555 504h3v1h-3zM601 504h2v1h-2zM473 505h3v1h-3zM478 505h2v1h-2zM552 505h3v1h-3zM603 505h1v1h-1zM471 506h2v1h-2zM480 506h2v1h-2zM548 506h4v1h-4zM604 506h1v1h-1zM468 507h3v1h-3zM482 507h2v1h-2zM544 507h4v1h-4zM605 507h2v1h-2zM466 508h2v1h-2zM484 508h2v1h-2zM540 508h4v1h-4zM607 508h3v1h-3zM464 509h2v1h-2zM486 509h2v1h-2zM534 509h6v1h-6zM610 509h6v1h-6zM463 510h1v1h-1zM488 510h1v1h-1zM530 510h4v1h-4zM616 510h3v1h-3zM462 511h1v1h-1zM489 511h2v1h-2zM526 511h4v1h-4zM619 511h2v1h-2zM162 512h6v1h-6zM460 512h2v1h-2zM491 512h2v1h-2zM522 512h4v1h-4zM621 512h2v1h-2zM158 513h4v1h-4zM168 513h7v1h-7zM459 513h1v1h-1zM493 513h2v1h-2zM518 513h4v1h-4zM623 513h1v1h-1zM154 514h4v1h-4zM175 514h4v1h-4zM458 514h1v1h-1zM495 514h2v1h-2zM512 514h6v1h-6zM624 514h2v1h-2zM152 515h2v1h-2zM179 515h4v1h-4zM226 515h7v1h-7zM456 515h2v1h-2zM497 515h15v1h-15zM626 515h2v1h-2zM150 516h2v1h-2zM183 516h3v1h-3zM220 516h6v1h-6zM233 516h29v1h-29zM455 516h1v1h-1zM628 516h1v1h-1zM148 517h2v1h-2zM186 517h4v1h-4zM216 517h4v1h-4zM262 517h4v1h-4zM453 517h2v1h-2zM629 517h2v1h-2zM146 518h2v1h-2zM190 518h4v1h-4zM212 518h4v1h-4zM266 518h4v1h-4zM451 518h2v1h-2zM631 518h1v1h-1zM144 519h2v1h-2zM194 519h7v1h-7zM208 519h4v1h-4zM270 519h3v1h-3zM449 519h2v1h-2zM632 519h2v1h-2zM142 520h2v1h-2zM201 520h7v1h-7zM273 520h2v1h-2zM447 520h2v1h-2zM634 520h2v1h-2zM136 521h6v1h-6zM275 521h2v1h-2zM445 521h2v1h-2zM636 521h1v1h-1zM125 522h11v1h-11zM277 522h2v1h-2zM444 522h1v1h-1zM637 522h2v1h-2zM117 523h8v1h-8zM279 523h2v1h-2zM442 523h2v1h-2zM639 523h2v1h-2zM111 524h6v1h-6zM281 524h4v1h-4zM440 524h2v1h-2zM641 524h4v1h-4zM103 525h8v1h-8zM285 525h6v1h-6zM438 525h2v1h-2zM645 525h4v1h-4zM86 526h17v1h-17zM291 526h3v1h-3zM436 526h2v1h-2zM649 526h3v1h-3zM294 527h2v1h-2zM434 527h2v1h-2zM652 527h3v1h-3zM296 528h2v1h-2zM433 528h1v1h-1zM655 528h2v1h-2zM865 528h5v1h-5zM886 528h5v1h-5zM298 529h1v1h-1zM431 529h2v1h-2zM657 529h3v1h-3zM859 529h6v1h-6zM870 529h6v1h-6zM881 529h5v1h-5zM891 529h6v1h-6zM299 530h2v1h-2zM430 530h1v1h-1zM660 530h3v1h-3zM855 530h4v1h-4zM876 530h5v1h-5zM897 530h15v1h-15zM301 531h2v1h-2zM428 531h2v1h-2zM663 531h3v1h-3zM851 531h4v1h-4zM912 531h2v1h-2zM303 532h1v1h-1zM427 532h1v1h-1zM666 532h2v1h-2zM847 532h4v1h-4zM914 532h2v1h-2zM304 533h2v1h-2zM426 533h1v1h-1zM668 533h3v1h-3zM844 533h3v1h-3zM916 533h2v1h-2zM306 534h2v1h-2zM424 534h2v1h-2zM671 534h3v1h-3zM840 534h4v1h-4zM918 534h2v1h-2zM308 535h2v1h-2zM422 535h2v1h-2zM674 535h4v1h-4zM836 535h4v1h-4zM920 535h3v1h-3zM310 536h2v1h-2zM420 536h2v1h-2zM678 536h4v1h-4zM823 536h13v1h-13zM923 536h4v1h-4zM948 536h8v1h-8zM312 537h2v1h-2zM377 537h16v1h-16zM418 537h2v1h-2zM682 537h3v1h-3zM821 537h2v1h-2zM927 537h4v1h-4zM938 537h10v1h-10zM956 537h6v1h-6zM314 538h2v1h-2zM371 538h6v1h-6zM393 538h6v1h-6zM416 538h2v1h-2zM685 538h3v1h-3zM820 538h1v1h-1zM931 538h7v1h-7zM962 538h3v1h-3zM316 539h2v1h-2zM367 539h4v1h-4zM399 539h8v1h-8zM414 539h2v1h-2zM688 539h4v1h-4zM818 539h2v1h-2zM318 540h2v1h-2zM363 540h4v1h-4zM407 540h7v1h-7zM692 540h4v1h-4zM817 540h1v1h-1zM320 541h2v1h-2zM360 541h3v1h-3zM696 541h6v1h-6zM816 541h1v1h-1zM322 542h2v1h-2zM356 542h4v1h-4zM702 542h5v1h-5zM814 542h2v1h-2zM324 543h3v1h-3zM350 543h6v1h-6zM707 543h6v1h-6zM813 543h1v1h-1zM327 544h2v1h-2zM346 544h4v1h-4zM713 544h16v1h-16zM811 544h2v1h-2zM329 545h2v1h-2zM343 545h3v1h-3zM729 545h6v1h-6zM809 545h2v1h-2zM331 546h2v1h-2zM341 546h2v1h-2zM735 546h4v1h-4zM807 546h2v1h-2zM333 547h2v1h-2zM338 547h3v1h-3zM739 547h4v1h-4zM805 547h2v1h-2zM335 548h3v1h-3zM743 548h4v1h-4zM803 548h2v1h-2zM747 549h6v1h-6zM801 549h2v1h-2zM753 550h8v1h-8zM799 550h2v1h-2zM761 551h6v1h-6zM797 551h2v1h-2zM767 552h5v1h-5zM795 552h2v1h-2zM772 553h6v1h-6zM793 553h2v1h-2zM778 554h15v1h-15z" fill="#008000"/>
<path d="M14 533h6v1h-6zM23 533h2v1h-2zM20 534h3v1h-3z" fill="#ff0000"/>
<path d="M35 533h2v1h-2zM32 534h3v1h-3zM29 535h3v1h-3zM27 536h2v1h-2zM24 537h3v1h-3zM21 538h3v1h-3zM17 539h4v1h-4zM13 540h4v1h-4zM11 541h2v1h-2z" fill="#008000"/>
<path d="M8.5 572 L13.5 585.5 H134.5 L136.5 572 Z" fill="#f0f0f0" stroke="none"/>
<path d="M8.5 572 L13.5 585.5 H134.5 L136.5 572" fill="none" stroke="#505050" stroke-width="1"/>
<path d="M136 571 L140.5 585.5 H227.5 L232.5 571 Z" fill="#ffffff" stroke="none"/>
<path d="M136 571.5 L140.5 585.5 H227.5 L232.5 571.5" fill="none" stroke="#404040" stroke-width="1"/>
</svg>
<!-- right axis labels -->
<div class="t ax" style="top:46px;">-20000.0</div>
<div class="t ax" style="top:54px;">-18000.0</div>
<div class="t ax" style="top:63px;">-16000.0</div>
<div class="t ax" style="top:74px;">-14000.0</div>
<div class="t ax" style="top:86px;">-12000.0</div>
<div class="t ax" style="top:100px;">-10000.0</div>
<div class="abs" style="left:1181px;top:93px;width:48px;height:11px;background:#ffff00;"></div>
<div class="t ax" style="top:94px;left:1185px;">10800.0</div>
<div class="t ax" style="top:118px;">-8000.0</div>
<div class="t ax" style="top:141px;">-6000.0</div>
<div class="t ax" style="top:173px;">-4000.0</div>
<div class="t ax" style="top:228px;">-2000.0</div>
<!-- x labels -->
<div class="t xl" style="left:13px;">16</div>
<div class="t xl" style="left:143px;">17</div>
<div class="t xl" style="left:273px;">18</div>
<div class="t xl" style="left:403px;">19</div>
<div class="t xl" style="left:534px;">20</div>
<div class="t xl" style="left:664px;">21</div>
<div class="t xl" style="left:794px;">22</div>
<div class="t xl" style="left:924px;">23</div>
<div class="t xl" style="left:1054px;width:9px;overflow:hidden;">24</div>
<!-- RSI text -->
<div class="t rs" style="left:8.5px;top:495.5px;">RSI 8,5 (80%-20%)</div>
<div class="t rs" style="left:7px;top:508px;">RSI =</div><div class="t rs" style="left:36.5px;top:508px;color:#ff0000;letter-spacing:-0.2px;">48.16</div>
<div class="t rs" style="left:7px;top:521px;letter-spacing:-0.6px;">EMA =</div><div class="t rs" style="left:40.5px;top:521px;color:#008000;letter-spacing:-0.1px;">51.67</div>
<!-- tab bar -->

<div class="t tab" style="left:14px;top:574px;letter-spacing:0.13px;">DTOSC 8,5,3,3 (75%-25%)</div>
<div class="t tab" style="left:141px;top:574px;">RSI 8,5 (80%-20%)</div>
<div class="t" style="left:497px;top:588px;font-size:11px;">Chart created by Dynamic Trader&nbsp; (c) 1996-2014</div>
<!-- left tool palette -->
<div class="abs" style="left:2px;top:90px;width:26px;height:190px;background:#f0f0f0;"></div>
<div class="abs" style="left:28px;top:90px;width:1px;height:191px;background:#a0a0a0;"></div>
<div class="abs" style="left:2px;top:280px;width:27px;height:1px;background:#a0a0a0;"></div>
<div class="abs" style="left:14px;top:90px;width:13px;height:14px;background:#f0f0f0;border-right:2px solid #696969;border-bottom:2px solid #696969;"></div>
<div class="t" style="left:16.5px;top:91px;font-size:13.5px;text-decoration:underline;">X</div>
<div class="abs" style="left:2px;top:108px;width:23px;height:20px;background:#fff;border-top:1px solid #a0a0a0;border-left:1px solid #a0a0a0;"></div>
<svg class="abs" style="left:0;top:80px" width="40" height="210" viewBox="0 80 40 210">
<g fill="none" stroke-linecap="butt">
<path d="M9 125.5 L21 115" stroke="#ff0000" stroke-width="2"/>
<path d="M8.2 142.7 L17.6 133.7 M11.2 145.7 L20.6 136" stroke="#0000ff" stroke-width="2.2"/>
<path d="M4.5 163.5 L14.6 153.6 M11.6 150.2 L6.7 154.4 L13.9 160.7 L18 156.2" stroke="#ff00ff" stroke-width="1.5"/>
<path d="M5 184.2 L15.6 174.6" stroke="#008000" stroke-width="1.8"/>
<path d="M8.2 186.6 L18 176.4" stroke="#008000" stroke-width="1.6" stroke-dasharray="1.5 2.7"/>
<path d="M13.7 197 L6.4 212.1 L16.9 212.1" stroke="#0000ff" stroke-width="1.3"/>
<path d="M6.4 230.1 L16.9 220.2 M8.7 232.5 L18.6 222.6 M10.5 234.8 L21 224.3" stroke="#008080" stroke-width="1"/>
<path d="M5.2 241.2 L5.2 256.3 L15.7 256.3 M5.2 256.3 L12.2 241.8 M5.2 256.3 L19.8 242.4" stroke="#808000" stroke-width="1"/>
</g>
<g fill="#0000ff"><path d="M25 164.5 V171 H18.5 Z"/><path d="M25 185.5 V192 H18.5 Z"/><path d="M25 210.5 V217 H18.5 Z"/><path d="M25 252 V258.7 H18.5 Z"/></g>
<g shape-rendering="crispEdges"><rect x="5.5" y="261.5" width="16" height="16" fill="#f4f4f4" stroke="#808080" stroke-width="1"/>
<path d="M9.5 262 V278 M13.5 262 V278 M17.5 262 V278 M5 265.5 H22 M5 269.5 H22 M5 273.5 H22" stroke="#909090" stroke-width="1" fill="none"/></g>
</svg>
<div class="t pl" style="left:18px;top:121px;">T</div>
<div class="t pl" style="left:18.5px;top:141.5px;">P</div>
<div class="t pl" style="left:15.5px;top:159.5px;">A</div>
<div class="t pl" style="left:13.5px;top:183px;">B</div>
<div class="t pl" style="left:13.5px;top:203.5px;font-size:9px;">R</div>
<div class="t pl" style="left:16.5px;top:230px;font-size:9px;">R</div>
<div class="t pl" style="left:15.5px;top:247.5px;">G</div>
<div class="t" style="left:6px;top:264px;font-size:12px;font-weight:bold;color:#800080;">P</div>
<div class="t" style="left:14px;top:264px;font-size:12px;font-weight:bold;color:#0000ff;">T</div>
</body></html>
